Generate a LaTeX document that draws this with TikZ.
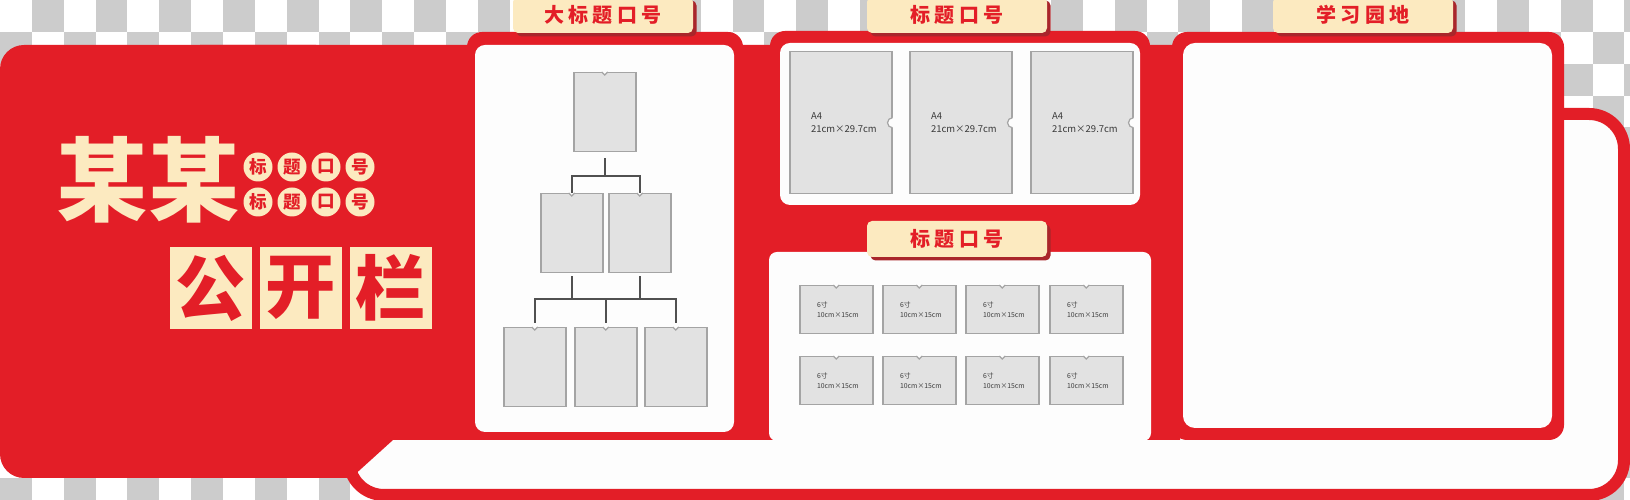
\documentclass[tikz,border=0pt]{standalone}
\usepackage{fontspec}
\setmainfont{Noto Sans CJK SC}
\usetikzlibrary{shadows}
\definecolor{hongse}{HTML}{E31E27}
\definecolor{mise}{HTML}{FCEAC0}
\definecolor{anhong}{HTML}{A9262B}
\definecolor{gezi}{HTML}{CCCCCC}
\definecolor{kuang}{HTML}{E2E2E2}
\definecolor{bian}{HTML}{A4A4A4}
\definecolor{zhi}{HTML}{FDFDFD}
\definecolor{xian}{HTML}{505050}
\definecolor{zi}{HTML}{3A3A3A}

% small cut on top of a frame
\newcommand{\notchtop}[1]{%
  \fill[zhi] ([xshift=-0.3mm, yshift=0.1mm]#1.north) -- ([yshift=-0.3mm]#1.north) -- ([xshift=0.3mm, yshift=0.1mm]#1.north) -- cycle;
  \draw[bian, line width=0.12mm] ([xshift=-0.3mm]#1.north) -- ([yshift=-0.3mm]#1.north) -- ([xshift=0.3mm]#1.north);}
% round cut on the side of an A4 frame
\newcommand{\notchside}[1]{%
  \fill[zhi] (#1.east) circle[radius=0.5mm];
  \draw[bian, line width=0.12mm] ([yshift=0.5mm]#1.east) arc[start angle=90, end angle=270, radius=0.5mm];}

\begin{document}
\begin{tikzpicture}[
      x = 0.1mm, y = -0.1mm, % one unit = one pixel, y goes down
      semithick,
    ]

    \tikzstyle{titletab}=[
      fill = mise,
      rounded corners = 0.5mm,
      minimum width = 18mm,
      minimum height = 3.6mm,
      inner sep = 0pt,
      text = hongse,
      font = \fontsize{5.7pt}{6pt}\selectfont\bfseries\addfontfeature{LetterSpace=20},
      drop shadow = {shadow xshift = 0.35mm, shadow yshift = -0.35mm, fill = anhong, opacity = 1}
    ]
    \tikzstyle{badge}=[circle, fill = mise, text = hongse, minimum size = 2.9mm, inner sep = 0pt,
      font = \fontsize{5pt}{5pt}\selectfont\bfseries]
    \tikzstyle{bigchar}=[fill = mise, text = hongse, minimum size = 8.2mm, inner sep = 0pt,
      font = \fontsize{20pt}{20pt}\selectfont\bfseries]
    \tikzstyle{orgbox}=[
      draw = bian,
      fill = kuang,
      line width = 0.15mm,
      minimum width = 6.2mm,
      minimum height = 7.9mm,
      inner sep = 0pt,
      anchor = north west
    ]
    \tikzstyle{a4box}=[orgbox, minimum width = 10.2mm, minimum height = 14.2mm]
    \tikzstyle{photobox}=[orgbox, minimum width = 7.3mm, minimum height = 4.8mm]
    \tikzstyle{a4txt}=[anchor = west, inner sep = 0pt, align = left, text = zi,
      font = \fontsize{2.7pt}{3.7pt}\selectfont]
    \tikzstyle{phototxt}=[anchor = west, inner sep = 0pt, align = left, text = zi,
      font = \fontsize{1.95pt}{2.85pt}\selectfont]
    \tikzstyle{link}=[draw = xian, line width = 0.2mm]

    \useasboundingbox (0,0) rectangle (1630,500);

    % checker background
    \fill[white] (0,0) rectangle (1630,500);
    \foreach \i in {0,...,51}
      \foreach \j in {0,...,15} {
        \pgfmathtruncatemacro{\cellk}{mod(\i+\j,2)}
        \ifnum\cellk=1
          \fill[gezi] (\i*31.85, \j*31.85) rectangle ++(31.85, 31.85);
        \fi
      }

    % outer frame
    \draw[hongse, line width = 1.2mm, fill = zhi, rounded corners = 3.5mm] (349,114) rectangle (1624,495);

    % red base
    \fill[hongse, rounded corners = 2.4mm] (0,45) rectangle (340,478);
    \fill[hongse] (200,45) -- (1180,45) -- (1180,440) -- (393,440) -- (351,478) -- (200,478) -- cycle;
    \fill[hongse, rounded corners = 1.5mm] (467,32) rectangle (743,440);
    \fill[hongse, rounded corners = 1.5mm] (770,31) rectangle (1150,240);
    \fill[hongse, rounded corners = 1.5mm] (1172,32) rectangle (1564,440);

    % white boards
    \fill[zhi, rounded corners = 1mm] (475,45) rectangle (734,432);
    \fill[zhi, rounded corners = 1mm] (780,43) rectangle (1140,205);
    \fill[zhi, rounded corners = 0.8mm] (769,252) rectangle (1151,441);
    \fill[zhi, rounded corners = 1.2mm] (1183,43) rectangle (1552,428);

    % tabs
    \node[titletab] (tab1) at (603,15) {大标题口号};
    \node[titletab] (tab2) at (957,15) {标题口号};
    \node[titletab] (tab3) at (957,239) {标题口号};
    \node[titletab] (tab4) at (1363,15) {学习园地};

    % left title
    \node[text = mise, inner sep = 0pt, font = \fontsize{26pt}{26pt}\selectfont\bfseries] (moumou) at (148,180) {某某};
    \foreach \c [count=\n] in {标,题,口,号} {
      \node[badge] (up\n) at (224+34*\n, 167) {\c};
      \node[badge] (dn\n) at (224+34*\n, 202) {\c};
    }
    \node[bigchar] (gong) at (211,288) {公};
    \node[bigchar] (kai) at (301,288) {开};
    \node[bigchar] (lan) at (391,288) {栏};

    % org chart
    \node[orgbox] (o1) [at={(573,72)}] {};
    \node[orgbox] (o2) [at={(540,193)}] {};
    \node[orgbox] (o3) [at={(608,193)}] {};
    \node[orgbox] (o4) [at={(503,327)}] {};
    \node[orgbox] (o5) [at={(574,327)}] {};
    \node[orgbox] (o6) [at={(644,327)}] {};
    \foreach \b in {o1,o2,o3,o4,o5,o6} {\notchtop{\b}}

    \draw[link] ([yshift=-0.6mm]o1.south) -- ++(0,18) -| (o2.north);
    \draw[link] ([yshift=-0.6mm]o1.south) -- ++(0,18) -| (o3.north);
    \draw[link, shorten >= 0.4mm] ([yshift=-0.3mm]o2.south) -- ++(0,23) -| (o4.north);
    \draw[link, shorten >= 0.4mm] ([yshift=-0.3mm]o2.south) -- ++(0,23) -| (o5.north);
    \draw[link, shorten >= 0.4mm] ([yshift=-0.3mm]o3.south) -- ++(0,23) -| (o5.north);
    \draw[link, shorten >= 0.4mm] ([yshift=-0.3mm]o3.south) -- ++(0,23) -| (o6.north);

    % A4 frames
    \foreach \x [count=\n] in {789,909,1030} {
      \node[a4box] (a\n) [at={(\x,51)}] {};
      \notchside{a\n}
      \node[a4txt] (a\n t) at ([xshift=2.1mm]a\n.west) {A4\\21cm×29.7cm};
    }

    % photo frames
    \foreach \x [count=\n] in {799,882,965,1049} {
      \node[photobox] (pu\n) [at={(\x,285)}] {};
      \node[photobox] (pd\n) [at={(\x,356)}] {};
      \notchtop{pu\n}
      \notchtop{pd\n}
      \node[phototxt] (pu\n t) at ([xshift=1.7mm]pu\n.west) {6寸\\10cm×15cm};
      \node[phototxt] (pd\n t) at ([xshift=1.7mm]pd\n.west) {6寸\\10cm×15cm};
    }
  \end{tikzpicture}
\end{document}
